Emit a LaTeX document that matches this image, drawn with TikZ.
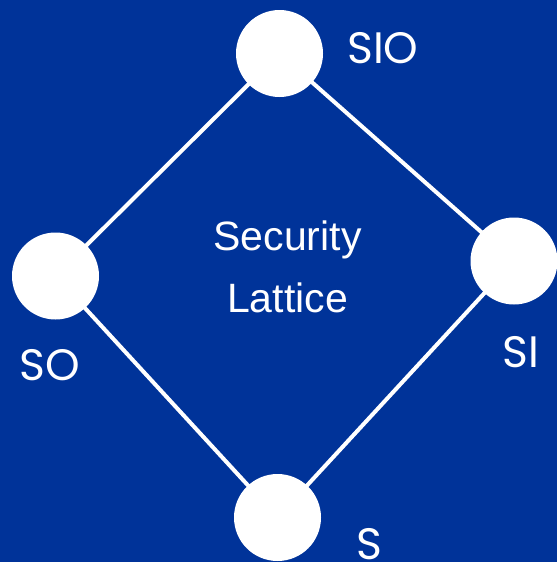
\documentclass[tikz,border=0pt]{standalone}
\usepackage{fontspec}
\setmainfont{Liberation Sans}
\newfontfamily\labelfont{Poppins}
\definecolor{latticebg}{HTML}{003399}
\begin{document}
\begin{tikzpicture}[x=1pt,y=-1pt,
  vertex/.style={circle,fill=white,minimum size=87pt,inner sep=0pt},
  edge/.style={draw=white,line width=4pt},
  lbl/.style={anchor=base west,inner sep=0pt,text=white,font=\labelfont\fontsize{44}{44}\selectfont},
  ttl/.style={anchor=base,inner sep=0pt,text=white,font=\fontsize{41}{41}\selectfont}]
  % background
  \fill[latticebg] (0,0) rectangle (557,562);
  \useasboundingbox (0,0) rectangle (557,562);
  % lattice points
  \coordinate (cSIO) at (279.5,53.5);
  \coordinate (cSO) at (55.5,276);
  \coordinate (cSI) at (514,261);
  \coordinate (cS) at (277.5,517.5);
  % order relations
  \draw[edge] (cSO) -- (cSIO);
  \draw[edge] (cSIO) -- (cSI);
  \draw[edge] (cSI) -- (cS);
  \draw[edge] (cS) -- (cSO);
  \node[vertex] (SIO) at (cSIO) {};
  \node[vertex] (SO) at (cSO) {};
  \node[vertex] (SI) at (cSI) {};
  \node[vertex] (S) at (cS) {};
  % labels
  \node[lbl] (tSIO) at (347,63) {SIO};
  \node[lbl] (tSO) at (19,380) {SO};
  \node[lbl] (tSI) at (502,367) {SI};
  \node[lbl] (tS) at (356,559) {S};
  \node[ttl] (sec) at (287.5,250) {Security};
  \node[ttl] (lat) at (287.5,312) {Lattice};
\end{tikzpicture}
\end{document}
